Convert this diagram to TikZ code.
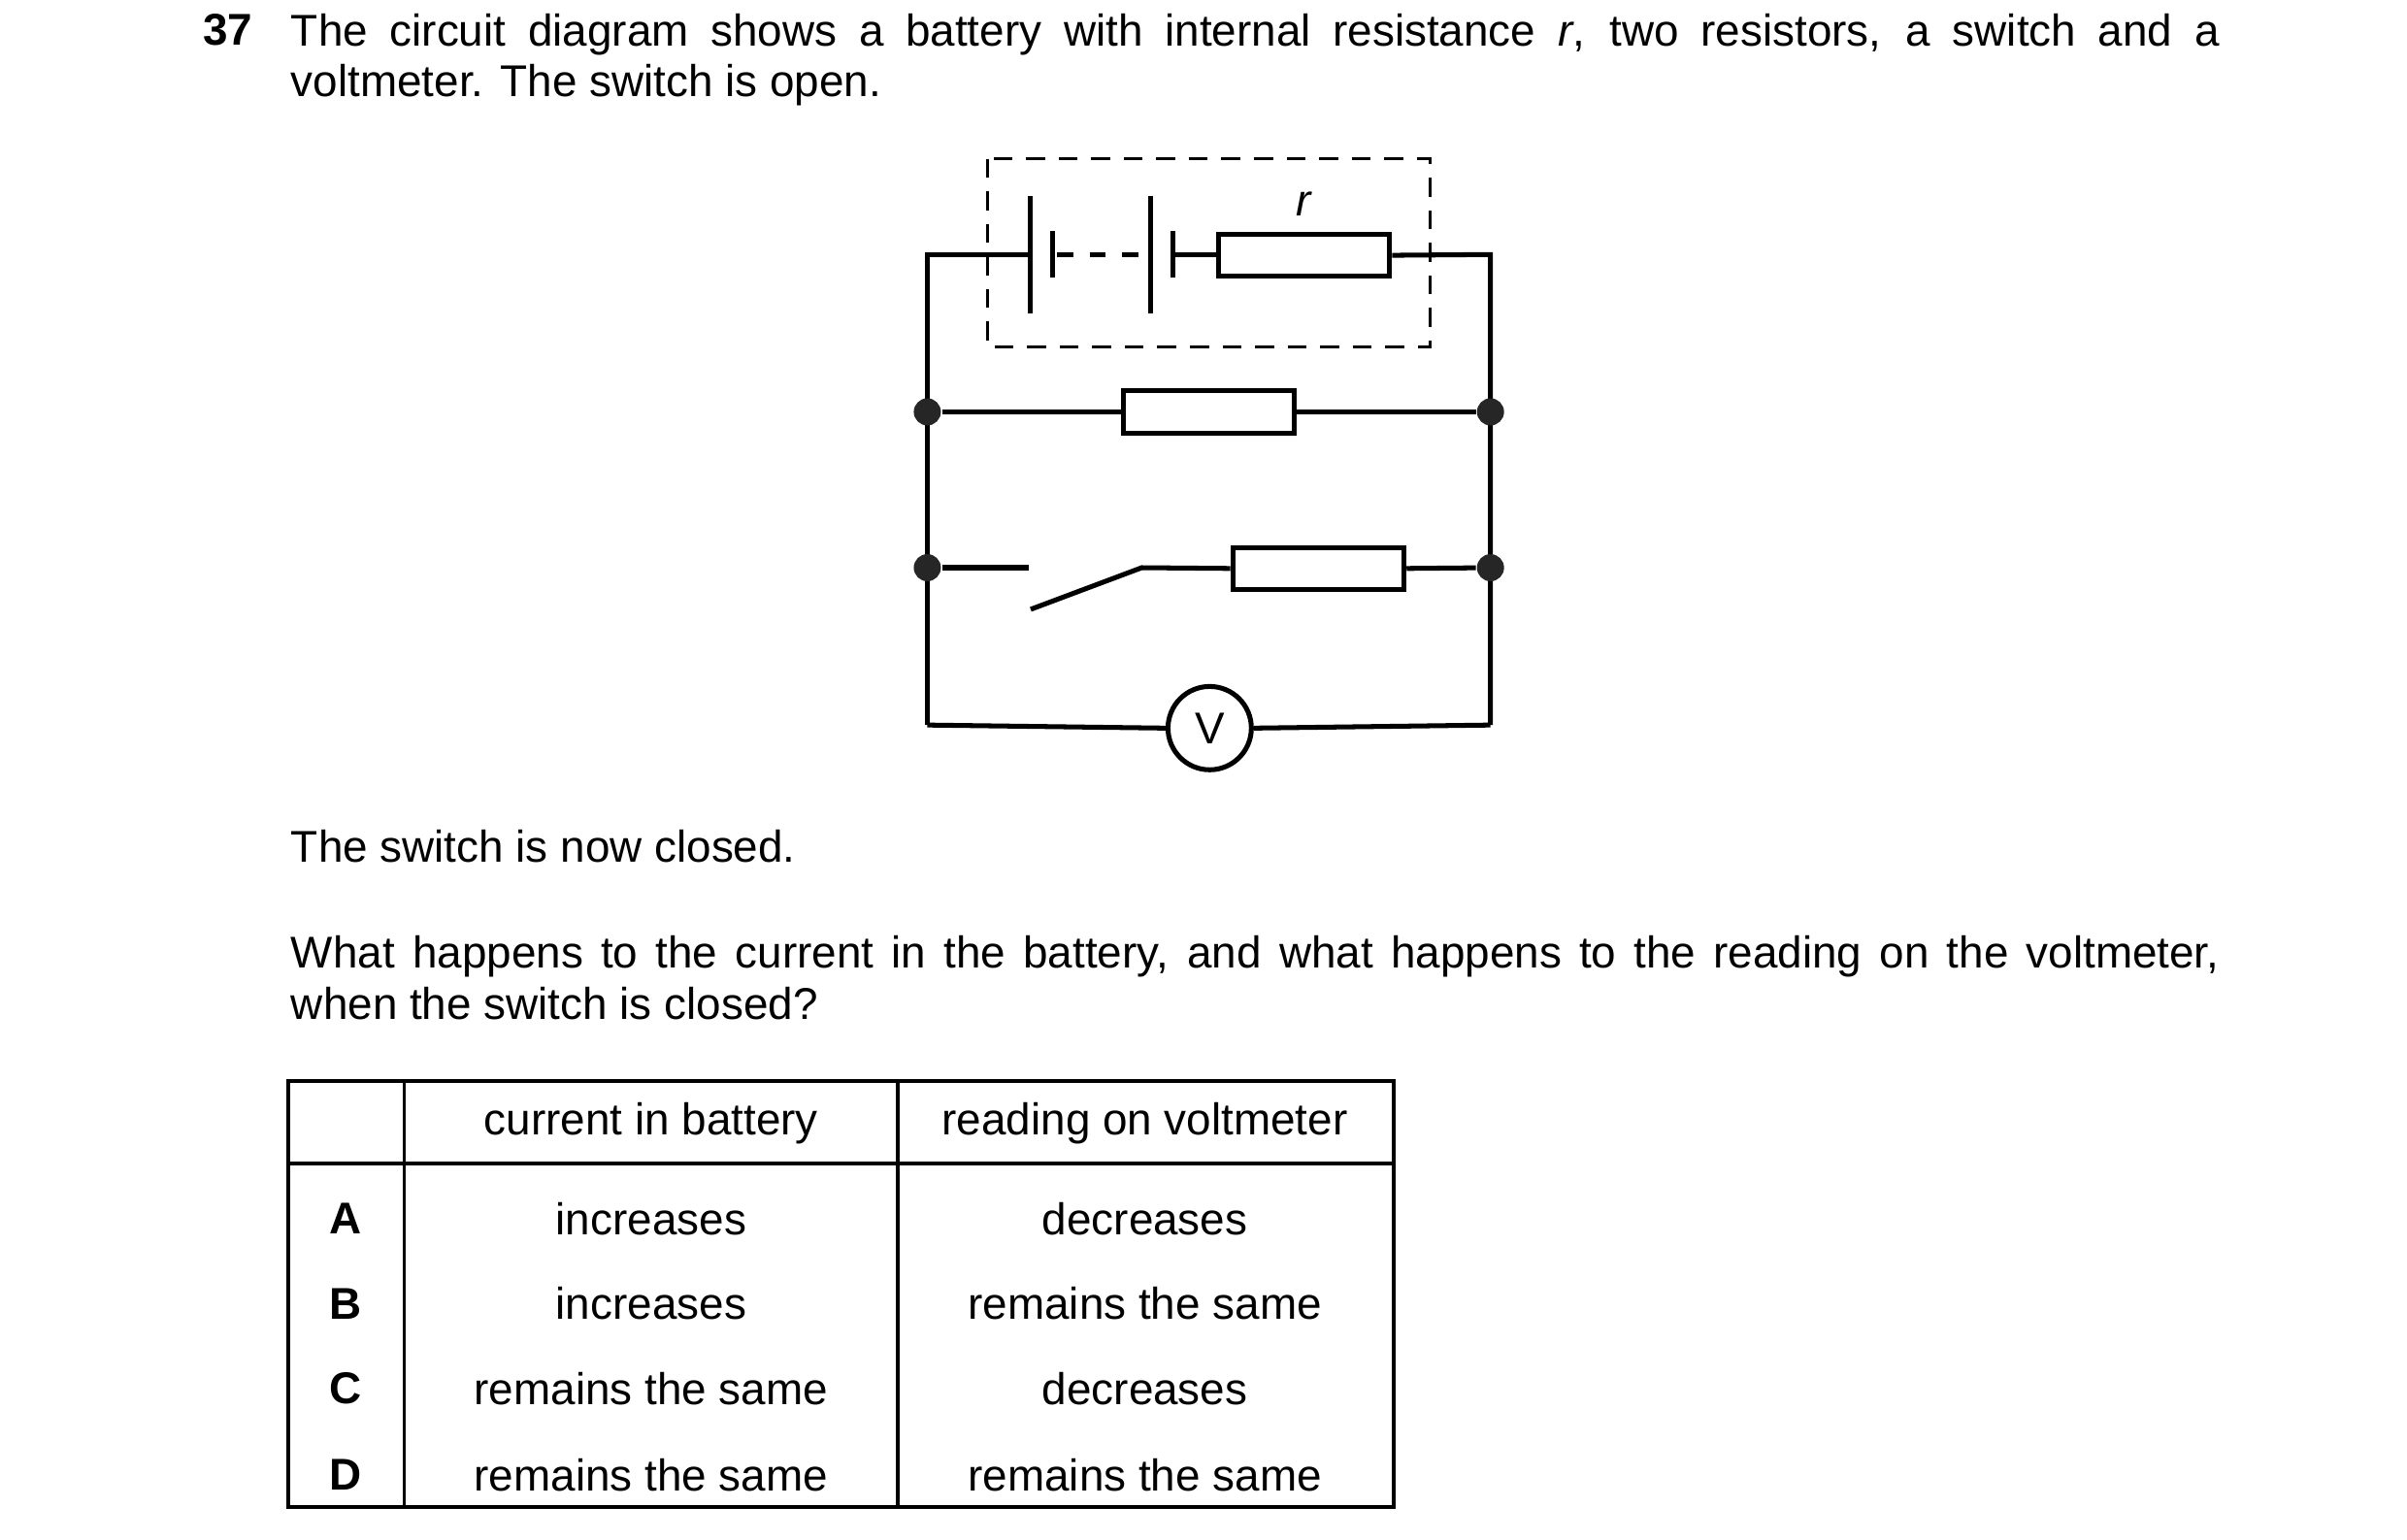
\documentclass[tikz,border=0pt]{standalone}
\usepackage{fontspec}
\setmainfont{Liberation Sans}
\begin{document}
\begin{tikzpicture}[x=0.01cm,y=-0.01cm,
  w/.style={line width=0.9pt},
  res/.style={draw,line width=0.9pt,fill=white},
  dot/.style={circle,fill=black!85,inner sep=0,minimum size=5pt},
  txt/.style={inner sep=0,font=\fontsize{8.2pt}{9.4pt}\selectfont},
  cell/.style={inner sep=0,font=\fontsize{8.2pt}{9.4pt}\selectfont,anchor=center}]
\useasboundingbox (0,0) rectangle (1560,998);
\fontsize{8.2pt}{9.4pt}\selectfont
% texts
\node[txt,anchor=base west,font=\fontsize{8.2pt}{9.4pt}\selectfont\bfseries] (n37) at (131,29) {37};
\node[txt,anchor=north west,text width=12.49cm,align=justify] (t1) at (188,8) {The circuit diagram shows a battery with internal resistance \textit{r}, two resistors, a switch and a\linebreak voltmeter. The switch is open.};
\node[txt,anchor=base west] (t2) at (188,559) {The switch is now closed.};
\node[txt,anchor=north west,text width=12.49cm,align=justify] (t3) at (188,606) {What happens to the current in the battery, and what happens to the reading on the voltmeter,\linebreak when the switch is closed?};
% circuit
\coordinate (tl) at (601,165); \coordinate (tr) at (966,165);
\coordinate (bl) at (601,470); \coordinate (br) at (966,470);
\draw[w] (bl) -- (tl) -- (668,165);
\draw[w] (668,127) -- (668,203);
\draw[w] (682,150) -- (682,180);
\draw[w,dash pattern=on 3pt off 3pt] (685,165) -- (744,165);
\draw[w] (746,127) -- (746,203);
\draw[w] (760,150) -- (760,180);
\draw[w] (760,165) -- (788,165);
\node[res,minimum width=1.11cm,minimum height=0.27cm,anchor=west] (rr) at (788,165.5) {};
\draw[w] (rr.east) -- (tr) -- (br);
\node[txt,font=\fontsize{8.2pt}{9.4pt}\selectfont\itshape] (rl) at (845,132) {r};
\draw[dash pattern=on 3.5pt off 2.5pt,line width=0.6pt] (640,103) rectangle (927,225);
% row 2
\node[dot] (d1) at (601,267) {}; \node[dot] (d2) at (966,267) {};
\node[res,minimum width=1.11cm,minimum height=0.28cm] (r1) at (783.5,267) {};
\draw[w] (d1) -- (r1.west) (r1.east) -- (d2);
% row 3
\node[dot] (d3) at (601,368) {}; \node[dot] (d4) at (966,368) {};
\coordinate (s1) at (667,368); \coordinate (s2) at (668,395); \coordinate (s3) at (740,368);
\node[res,minimum width=1.11cm,minimum height=0.27cm] (r2) at (854.5,368.5) {};
\draw[w] (d3) -- (s1);
\draw[w] (s2) -- (s3) -- (r2.west);
\draw[w] (r2.east) -- (d4);
% voltmeter
\node[circle,draw,line width=0.9pt,fill=white,minimum size=0.54cm,inner sep=0,font=\fontsize{8.2pt}{9.4pt}\selectfont] (vm) at (784,472) {V};
\draw[w] (bl) -- (vm.west) (vm.east) -- (br);
% table
\draw[line width=0.7pt] (187,701) rectangle (903,977);
\draw[line width=0.7pt] (187,754) -- (903,754) (262,701) -- (262,977) (582,701) -- (582,977);
\node[cell] (h1) at (422,728) {current in battery};
\node[cell] (h2) at (742,728) {reading on voltmeter};
\foreach \y/\l/\a/\b in {790/A/increases/decreases,845/B/increases/remains the same,900/C/remains the same/decreases,956/D/remains the same/remains the same}{
  \node[cell,font=\fontsize{8.2pt}{9.4pt}\selectfont\bfseries] at (224,\y) {\l};
  \node[cell] at (422,\y) {\a};
  \node[cell] at (742,\y) {\b};
}
\end{tikzpicture}
\end{document}
